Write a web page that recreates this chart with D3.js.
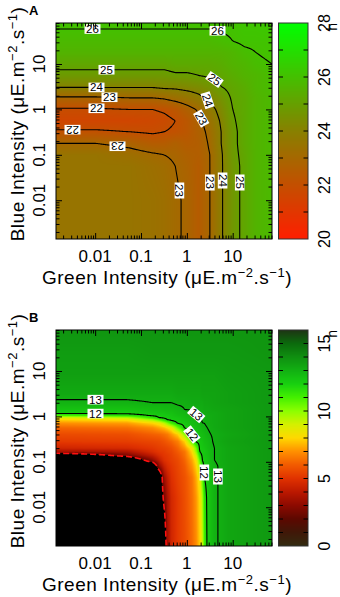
<!DOCTYPE html>
<html>
<head>
<meta charset="utf-8">
<script src="https://cdn.jsdelivr.net/npm/d3@7/dist/d3.min.js"></script>
<style>
  body { margin: 0; background: #fff; }
  svg { display: block; }
  text { font-family: "Liberation Sans", Arial, sans-serif; fill: #000; }
</style>
</head>
<body>
<svg id="chart" width="340" height="597"></svg>
<script>
// grid nodes, light intensities in µE.m-2.s-1
const greenA = [0.0014, 0.01, 0.056, 0.18, 0.32, 0.56, 1, 1.8, 3.2, 5.6, 10, 18, 32, 72];
const blueA  = [0.0014, 0.01, 0.056, 0.1, 0.18, 0.32, 0.56, 1, 1.8, 3.2, 5.6, 10, 18, 32, 80];

// panel A, hours; one row per blue level (lowest first), one column per green level
const hoursA = [
  [23.5, 23.5, 23.5, 23.4, 23.3, 23.1, 22.9, 22.5, 23.0, 23.9, 24.7, 25.2, 25.6, 25.8],
  [23.5, 23.5, 23.5, 23.4, 23.3, 23.1, 22.9, 22.5, 23.0, 23.9, 24.7, 25.2, 25.6, 25.8],
  [23.5, 23.5, 23.5, 23.3, 23.2, 23.0, 22.8, 22.5, 23.0, 23.9, 24.7, 25.2, 25.6, 25.8],
  [23.5, 23.5, 23.3, 23.1, 23.0, 22.9, 22.7, 22.6, 23.0, 23.9, 24.8, 25.2, 25.6, 25.8],
  [23.0, 23.0, 22.8, 22.5, 22.5, 22.7, 22.5, 22.6, 23.1, 24.0, 24.8, 25.3, 25.6, 25.8],
  [22.1, 22.1, 22.0, 21.9, 22.0, 22.1, 22.3, 22.7, 23.2, 24.0, 24.8, 25.3, 25.6, 25.8],
  [21.6, 21.6, 21.6, 21.7, 21.8, 22.0, 22.3, 22.8, 23.4, 24.1, 24.9, 25.3, 25.6, 25.8],
  [21.9, 21.9, 22.0, 22.0, 22.1, 22.3, 22.7, 23.1, 23.7, 24.3, 25.0, 25.3, 25.6, 25.8],
  [22.9, 22.9, 23.0, 23.0, 23.1, 23.3, 23.5, 23.8, 24.2, 24.6, 25.1, 25.3, 25.6, 25.8],
  [24.1, 24.1, 24.1, 24.1, 24.2, 24.2, 24.3, 24.4, 24.6, 25.0, 25.2, 25.4, 25.7, 25.9],
  [24.8, 24.8, 24.8, 24.8, 24.8, 24.9, 24.9, 25.0, 25.1, 25.2, 25.4, 25.6, 25.7, 25.9],
  [25.2, 25.2, 25.2, 25.2, 25.2, 25.3, 25.3, 25.3, 25.3, 25.4, 25.6, 25.7, 25.9, 26.0],
  [25.6, 25.6, 25.6, 25.6, 25.6, 25.6, 25.6, 25.6, 25.6, 25.6, 25.7, 25.9, 26.0, 26.1],
  [25.8, 25.8, 25.8, 25.8, 25.8, 25.8, 25.8, 25.8, 25.8, 25.9, 26.0, 26.1, 26.1, 26.1],
  [26.1, 26.1, 26.1, 26.1, 26.1, 26.1, 26.1, 26.1, 26.1, 26.1, 26.1, 26.2, 26.2, 26.3]
];

const greenB = [0.0014, 0.05, 0.18, 0.25, 0.32, 0.38, 0.46, 0.64, 0.9, 1.3, 1.6, 1.9, 2.15, 2.4, 2.8, 4, 8, 72];
const blueB  = [0.0014, 0.016, 0.045, 0.08, 0.11, 0.14, 0.166, 0.2, 0.28, 0.4, 0.56, 0.71, 0.83, 0.93, 1.05, 1.17, 1.4, 2, 3.2, 8, 25, 80];

// panel B, hours; null = no growth (black area)
const hoursB = [
  [null, null, null, null, null, 3.5, 4.5, 5.2, 5.6, 6.3, 6.9, 7.8, 8.8, 10.9, 12.2, 12.9, 13.3, 13.7],
  [null, null, null, null, 2.5, 3.7, 4.6, 5.2, 5.7, 6.4, 7.1, 8.0, 9.4, 11.4, 12.2, 12.9, 13.3, 13.7],
  [null, null, null, null, 3.3, 4.2, 4.9, 5.4, 5.8, 6.5, 7.4, 8.4, 10.4, 12.0, 12.3, 12.9, 13.3, 13.7],
  [null, null, null, 3.1, 4.3, 4.8, 5.1, 5.5, 6.0, 7.0, 7.9, 9.6, 11.6, 12.1, 12.4, 12.9, 13.3, 13.7],
  [null, null, 3.1, 4.2, 4.9, 5.1, 5.3, 5.6, 6.2, 7.3, 8.3, 10.6, 12.0, 12.2, 12.4, 13.0, 13.3, 13.7],
  [null, 2.7, 4.2, 4.8, 5.1, 5.2, 5.4, 5.8, 6.4, 7.7, 9.1, 11.5, 12.1, 12.3, 12.5, 13.0, 13.3, 13.7],
  [3.5, 3.7, 4.8, 5.1, 5.2, 5.4, 5.5, 6.0, 6.5, 8.0, 9.9, 12.0, 12.2, 12.3, 12.5, 13.0, 13.3, 13.7],
  [4.5, 4.7, 5.1, 5.3, 5.4, 5.5, 5.7, 6.2, 7.0, 8.4, 10.4, 12.1, 12.3, 12.4, 12.6, 13.0, 13.3, 13.7],
  [5.2, 5.3, 5.5, 5.6, 5.8, 6.0, 6.2, 6.7, 7.9, 10.7, 12.1, 12.3, 12.4, 12.6, 12.7, 13.1, 13.4, 13.7],
  [5.6, 5.7, 6.1, 6.2, 6.4, 6.6, 7.1, 7.9, 10.0, 12.1, 12.3, 12.5, 12.6, 12.7, 12.9, 13.1, 13.3, 13.7],
  [6.2, 6.4, 6.9, 7.3, 7.6, 8.0, 8.4, 10.5, 12.1, 12.4, 12.6, 12.7, 12.8, 12.9, 13.0, 13.2, 13.4, 13.7],
  [7.0, 7.2, 8.0, 8.4, 9.3, 10.2, 11.2, 12.1, 12.3, 12.6, 12.7, 12.9, 13.0, 13.0, 13.1, 13.2, 13.4, 13.7],
  [7.8, 8.1, 9.6, 10.6, 11.5, 12.0, 12.1, 12.3, 12.5, 12.7, 12.9, 13.0, 13.0, 13.1, 13.1, 13.2, 13.4, 13.7],
  [8.6, 9.4, 11.4, 12.0, 12.1, 12.2, 12.3, 12.4, 12.6, 12.8, 12.9, 13.0, 13.0, 13.1, 13.1, 13.2, 13.4, 13.7],
  [10.9, 11.6, 12.1, 12.2, 12.3, 12.3, 12.4, 12.6, 12.7, 12.9, 13.0, 13.0, 13.1, 13.1, 13.1, 13.2, 13.4, 13.7],
  [12.1, 12.1, 12.3, 12.4, 12.4, 12.5, 12.5, 12.7, 12.8, 13.0, 13.0, 13.1, 13.1, 13.1, 13.2, 13.2, 13.4, 13.7],
  [12.4, 12.4, 12.6, 12.6, 12.7, 12.7, 12.7, 12.8, 13.0, 13.0, 13.1, 13.1, 13.1, 13.2, 13.2, 13.3, 13.4, 13.7],
  [12.9, 12.9, 13.0, 13.0, 13.0, 13.0, 13.0, 13.1, 13.1, 13.2, 13.2, 13.2, 13.2, 13.3, 13.3, 13.4, 13.5, 13.7],
  [13.2, 13.2, 13.2, 13.2, 13.2, 13.2, 13.2, 13.3, 13.3, 13.3, 13.3, 13.3, 13.4, 13.4, 13.4, 13.4, 13.5, 13.7],
  [13.5, 13.5, 13.5, 13.5, 13.5, 13.5, 13.5, 13.5, 13.5, 13.5, 13.5, 13.5, 13.5, 13.5, 13.5, 13.5, 13.6, 13.7],
  [13.6, 13.6, 13.7, 13.7, 13.7, 13.7, 13.7, 13.7, 13.7, 13.7, 13.7, 13.7, 13.7, 13.7, 13.7, 13.7, 13.7, 13.8],
  [13.8, 13.8, 13.8, 13.8, 13.8, 13.8, 13.8, 13.8, 13.8, 13.8, 13.8, 13.8, 13.8, 13.8, 13.8, 13.8, 13.8, 13.8]
];

const levelsA = [22, 23, 24, 25, 26];
const levelsB = [12, 13];
const noGrowth = 2;
const barTicksA = [20, 22, 24, 26, 28];
const barTicksB = [0, 5, 10, 15];
const axisTicks = [0.01, 0.1, 1, 10];

// contour labels: near (green, blue), snapped onto the line
const labelsA = [
  {t: "26", level: 26, g: 0.0086, b: 50, r: 0},
  {t: "26", level: 26, g: 4.5, b: 50, r: 0},
  {t: "25", level: 25, g: 0.018, b: 6.6, r: 0},
  {t: "24", level: 24, g: 0.0105, b: 3.1, r: 0},
  {t: "23", level: 23, g: 0.021, b: 1.9, r: 0},
  {t: "22", level: 22, g: 0.0105, b: 1.13, r: 0},
  {t: "22", level: 22, g: 0.0032, b: 0.39, r: 180},
  {t: "23", level: 23, g: 0.032, b: 0.183, r: 180},
  {t: "25", level: 25, g: 3.9, b: 4.4, r: 35},
  {t: "24", level: 24, g: 2.75, b: 1.53, r: 72},
  {t: "23", level: 23, g: 2.14, b: 0.65, r: 60},
  {t: "23", level: 23, g: 0.78, b: 0.017, r: 90},
  {t: "23", level: 23, g: 3.4, b: 0.024, r: 90},
  {t: "24", level: 24, g: 5.9, b: 0.027, r: 90},
  {t: "25", level: 25, g: 11.8, b: 0.024, r: 90}
];
const labelsB = [
  {t: "13", level: 13, g: 0.01, b: 2.2, r: 0},
  {t: "12", level: 12, g: 0.01, b: 1.13, r: 0},
  {t: "13", level: 13, g: 1.75, b: 1.19, r: 40},
  {t: "12", level: 12, g: 1.23, b: 0.39, r: 52},
  {t: "12", level: 12, g: 2.14, b: 0.057, r: 90},
  {t: "13", level: 13, g: 4.1, b: 0.047, r: 90}
];

const colorA = d3.scaleLinear().domain([20, 24, 28]).range(["#ff1e00", "#888000", "#00ff00"]).clamp(true);
const colorB = d3.scaleLinear()
  .domain(d3.range(0, 17))
  .range(["#332b10","#401808","#5c0800","#8c0a00","#bb1800","#e03200","#f25a00","#ff9000","#ffd800","#d4f000","#8cff00","#44f000","#18d010","#12b012","#0f8f10","#0b6a0c","#1e3414"])
  .clamp(true);

const X0 = 56, X1 = 272, PH = 216, CB0 = 278.5, CBW = 29.5;
const svg = d3.select("#chart");

// bilinear value in log space between grid nodes
function field(lgx, lgy, gx, gy, hours) {
  const i = Math.max(0, Math.min(gx.length - 2, d3.bisectRight(gx, lgx) - 1));
  const j = Math.max(0, Math.min(gy.length - 2, d3.bisectRight(gy, lgy) - 1));
  const tx = Math.max(0, Math.min(1, (lgx - gx[i]) / (gx[i + 1] - gx[i])));
  const ty = Math.max(0, Math.min(1, (lgy - gy[j]) / (gy[j + 1] - gy[j])));
  const v = (r, c) => hours[r][c] == null ? 0 : hours[r][c];
  return (1 - ty) * ((1 - tx) * v(j, i) + tx * v(j, i + 1)) + ty * ((1 - tx) * v(j + 1, i) + tx * v(j + 1, i + 1));
}

function drawPanel(p) {
  const top = p.top, bottom = top + PH, pw = X1 - X0;
  const x = d3.scaleLog().domain([0.0014, 72]).range([X0, X1]);
  const y = d3.scaleLog().domain([0.0014, 80]).range([bottom, top]);
  const gx = p.green.map(Math.log10), gy = p.blue.map(Math.log10);
  const at = (px, py) => field(Math.log10(x.invert(px)), Math.log10(y.invert(py)), gx, gy, p.hours);

  // heat map
  const canvas = document.createElement("canvas");
  canvas.width = pw; canvas.height = PH;
  const ctx = canvas.getContext("2d");
  const img = ctx.createImageData(pw, PH);
  for (let r = 0; r < PH; r++) {
    for (let c = 0; c < pw; c++) {
      const v = at(X0 + c + 0.5, top + r + 0.5);
      const col = (p.floor != null && v < p.floor) ? {r: 0, g: 0, b: 0} : d3.rgb(p.color(v));
      const k = (r * pw + c) * 4;
      img.data[k] = col.r; img.data[k + 1] = col.g; img.data[k + 2] = col.b; img.data[k + 3] = 255;
    }
  }
  ctx.putImageData(img, 0, 0);
  svg.append("image").attr("x", X0).attr("y", top).attr("width", pw).attr("height", PH)
     .attr("href", canvas.toDataURL());

  // contours
  const pad = 4, n = pw + 2 * pad, m = PH + 2 * pad;
  const vals = new Float64Array(n * m);
  for (let j = 0; j < m; j++)
    for (let i = 0; i < n; i++)
      vals[j * n + i] = at(X0 - pad + i + 0.5, top - pad + j + 0.5);
  const gen = d3.contours().size([n, m]);
  const path = d3.geoPath(d3.geoIdentity().translate([X0 - pad, top - pad]));

  svg.append("clipPath").attr("id", "clip" + p.key)
     .append("rect").attr("x", X0).attr("y", top).attr("width", pw).attr("height", PH);
  const lines = svg.append("g").attr("clip-path", `url(#clip${p.key})`);

  const shapes = {};
  p.levels.forEach(l => {
    shapes[l] = gen.contour(vals, l);
    lines.append("path").attr("d", path(shapes[l]))
         .attr("fill", "none").attr("stroke", "#000").attr("stroke-width", 1.1);
  });
  if (p.floor != null) {
    lines.append("path").attr("d", path(gen.contour(vals, p.floor)))
         .attr("fill", "none").attr("stroke", "#ff1010").attr("stroke-width", 1.6)
         .attr("stroke-dasharray", "6,3");
  }

  p.labels.forEach(L => {
    const ax = x(L.g), ay = y(L.b);
    let best = null, bd = Infinity;
    shapes[L.level].coordinates.forEach(poly => poly.forEach(ring => ring.forEach(([u, w]) => {
      const px = X0 - pad + u, py = top - pad + w;
      if (px < X0 + 6 || px > X1 - 6 || py < top + 5 || py > bottom - 6) return;
      const d = (px - ax) ** 2 + (py - ay) ** 2;
      if (d < bd) { bd = d; best = [px, py]; }
    })));
    if (!best) best = [ax, ay];
    const g = lines.append("g").attr("transform", `translate(${best[0]},${best[1]}) rotate(${L.r})`);
    g.append("rect").attr("x", -8).attr("y", -4.8).attr("width", 16).attr("height", 9.6).attr("fill", "#fff");
    g.append("text").attr("y", 4).attr("text-anchor", "middle").style("font-size", "11.5px").text(L.t);
  });

  // frame and log ticks on all four sides
  svg.append("rect").attr("x", X0).attr("y", top).attr("width", pw).attr("height", PH)
     .attr("fill", "none").attr("stroke", "#000");
  const major = axisTicks, minor = x.ticks().filter(t => !major.includes(t));
  const minorY = y.ticks().filter(t => !major.includes(t));
  const sides = [
    [d3.axisBottom(x), `translate(0,${bottom})`, minor],
    [d3.axisTop(x), `translate(0,${top})`, minor],
    [d3.axisLeft(y), `translate(${X0},0)`, minorY],
    [d3.axisRight(y), `translate(${X1},0)`, minorY]
  ];
  sides.forEach(([ax, tr, mn]) => {
    [[mn, 3.5], [major, 6]].forEach(([tv, len]) => {
      svg.append("g").attr("transform", tr)
         .call(ax.tickValues(tv).tickSize(-len).tickFormat(""))
         .call(g => g.select(".domain").remove());
    });
  });

  // tick labels
  svg.append("g").selectAll("text").data(major).join("text")
     .attr("x", d => x(d)).attr("y", bottom + 22.5).attr("text-anchor", "middle")
     .style("font-size", "17px").text(d => d);
  svg.append("g").selectAll("text").data(major).join("text")
     .attr("transform", d => `translate(45,${y(d)}) rotate(-90)`).attr("text-anchor", "middle")
     .style("font-size", "17px").text(d => d);

  // axis titles
  const xt = svg.append("text").attr("x", 167).attr("y", bottom + 45).attr("text-anchor", "middle")
                .style("font-size", "19px").style("letter-spacing", "0.5px");
  const yt = svg.append("text").attr("transform", `translate(24,${top + PH / 2 - 7}) rotate(-90)`)
                .attr("text-anchor", "middle").style("font-size", "19px").style("letter-spacing", "0.5px");
  [[xt, "Green"], [yt, "Blue"]].forEach(([t, name]) => {
    t.append("tspan").text(`${name} Intensity (\u03bcE.m`);
    t.append("tspan").attr("dy", -7).style("font-size", "13px").text("\u22122");
    t.append("tspan").attr("dy", 7).text(".s");
    t.append("tspan").attr("dy", -7).style("font-size", "13px").text("\u22121");
    t.append("tspan").attr("dy", 7).text(")");
  });

  svg.append("text").attr("x", 29).attr("y", top - 8).style("font-size", "13px")
     .style("font-weight", "bold").text(p.key);

  // colour bar
  const cb = d3.scaleLinear().domain(p.bar).range([bottom, top]);
  svg.append("g").selectAll("rect").data(d3.range(top, bottom)).join("rect")
     .attr("x", CB0).attr("y", d => d).attr("width", CBW).attr("height", 1)
     .attr("fill", d => p.color(cb.invert(d + 0.5)));
  svg.append("rect").attr("x", CB0).attr("y", top).attr("width", CBW).attr("height", PH)
     .attr("fill", "none").attr("stroke", "#333");
  const inner = d3.range(p.bar[0] + 1, p.bar[1]);
  svg.append("g").selectAll("path").data(inner).join("path")
     .attr("d", d => `M${CB0},${cb(d)}h4.5M${CB0 + CBW},${cb(d)}h-4.5`)
     .attr("stroke", "#000");
  svg.append("g").selectAll("text").data(p.barTicks).join("text")
     .attr("transform", d => `translate(330,${cb(d)}) rotate(-90)`).attr("text-anchor", "middle")
     .style("font-size", "16px").text(d => d);
  svg.append("text").attr("transform", `translate(337,${top}) rotate(-90)`).attr("text-anchor", "end")
     .style("font-size", "14px").text("h");
}

drawPanel({key: "A", top: 23, green: greenA, blue: blueA, hours: hoursA, color: colorA,
           levels: levelsA, labels: labelsA, bar: [20, 28], barTicks: barTicksA, floor: null});
drawPanel({key: "B", top: 330, green: greenB, blue: blueB, hours: hoursB, color: colorB,
           levels: levelsB, labels: labelsB, bar: [0, 16], barTicks: barTicksB, floor: noGrowth});
</script>
</body>
</html>
